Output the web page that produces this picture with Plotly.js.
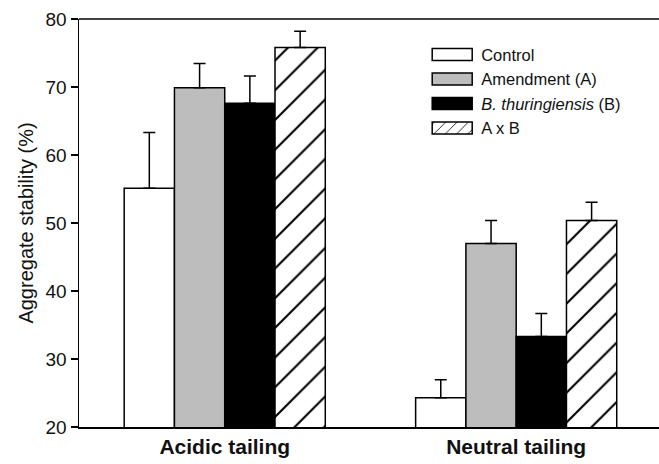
<!DOCTYPE html>
<html>
<head>
<meta charset="utf-8">
<script src="https://cdn.plot.ly/plotly-3.0.1.min.js"></script>
<style>html,body{margin:0;padding:0;background:#fff;}#chart{width:659px;height:464px;}</style>
</head>
<body>
<div id="chart"></div>
<script>
const categories = ['Acidic tailing', 'Neutral tailing'];
const seriesNames = ['Control', 'Amendment (A)', '<i>B. thuringiensis</i> (B)', 'A x B'];
const controlValues = [55.1, 24.3];
const amendmentValues = [69.9, 47.0];
const btValues = [67.6, 33.3];
const axbValues = [75.8, 50.35];
const controlErr = [8.2, 2.65];
const amendmentErr = [3.55, 3.35];
const btErr = [4.0, 3.4];
const axbErr = [2.4, 2.7];
const yTicks = [20, 30, 40, 50, 60, 70, 80];

const values = [controlValues, amendmentValues, btValues, axbValues];
const errs = [controlErr, amendmentErr, btErr, axbErr];
const fills = ['#ffffff', '#bdbdbd', '#000000', '#ffffff'];

const traces = values.map((v, i) => {
  const t = {
    type: 'bar',
    name: seriesNames[i],
    x: categories,
    y: v,
    marker: {color: fills[i], line: {color: '#000', width: 1.5}},
    error_y: {type: 'data', symmetric: false, array: errs[i], arrayminus: errs[i].map(() => 0),
              color: '#000', thickness: 1.5, width: 6}
  };
  if (i === 3) {
    t.marker.pattern = {shape: '/', fgcolor: '#000', bgcolor: '#fff', size: 21, solidity: 0.1};
  }
  return t;
});

const layout = {
  width: 659, height: 464,
  margin: {l: 79, r: 0, t: 19, b: 37, pad: 0},
  paper_bgcolor: '#fff', plot_bgcolor: '#fff',
  font: {family: 'Liberation Sans, Arial, sans-serif', color: '#111'},
  barmode: 'group', bargap: 0.31, bargroupgap: 0,
  showlegend: true,
  legend: {x: 0.59, y: 0.955, xanchor: 'left', yanchor: 'top', font: {size: 16.5},
           itemwidth: 50, bgcolor: 'rgba(0,0,0,0)', traceorder: 'normal', tracegroupgap: 0},
  xaxis: {type: 'category', range: [-0.5, 1.49], showline: true, linecolor: '#000', linewidth: 1.5,
          mirror: false, ticks: '', showgrid: false, zeroline: false,
          tickfont: {size: 21},
          tickvals: categories, ticktext: categories.map(c => '<b>' + c + '</b>')},
  yaxis: {range: [20, 80], tickvals: yTicks, showline: true, linecolor: '#000', linewidth: 1.5,
          mirror: false, ticks: 'outside', ticklen: 7, tickwidth: 1.5, tickcolor: '#000',
          showgrid: false, zeroline: false,
          tickfont: {size: 19},
          title: {text: 'Aggregate stability (%)', font: {size: 20}, standoff: 6}},
  shapes: [{type: 'line', xref: 'paper', yref: 'paper', x0: 0, x1: 1, y0: 1, y1: 1,
            line: {color: '#000', width: 1.5}}]
};

Plotly.newPlot('chart', traces, layout, {displayModeBar: false, staticPlot: true}).then(gd => {
  gd.querySelectorAll('.legend .traces').forEach(tr => {
    const path = tr.querySelector('.legendpoints path');
    const text = tr.querySelector('text.legendtext');
    if (!path || !text) return;
    const pr = path.getBoundingClientRect();
    const tx = text.getBoundingClientRect().left;
    const L = -6 + (tx - 49 - pr.left);
    const R = -6 + (tx - 9 - pr.left);
    path.setAttribute('d', 'M' + R + ',6H' + L + 'V-6H' + R + 'Z');
    path.style.strokeWidth = '1.5px';
    path.style.stroke = '#000';
  });
});
</script>
</body>
</html>
